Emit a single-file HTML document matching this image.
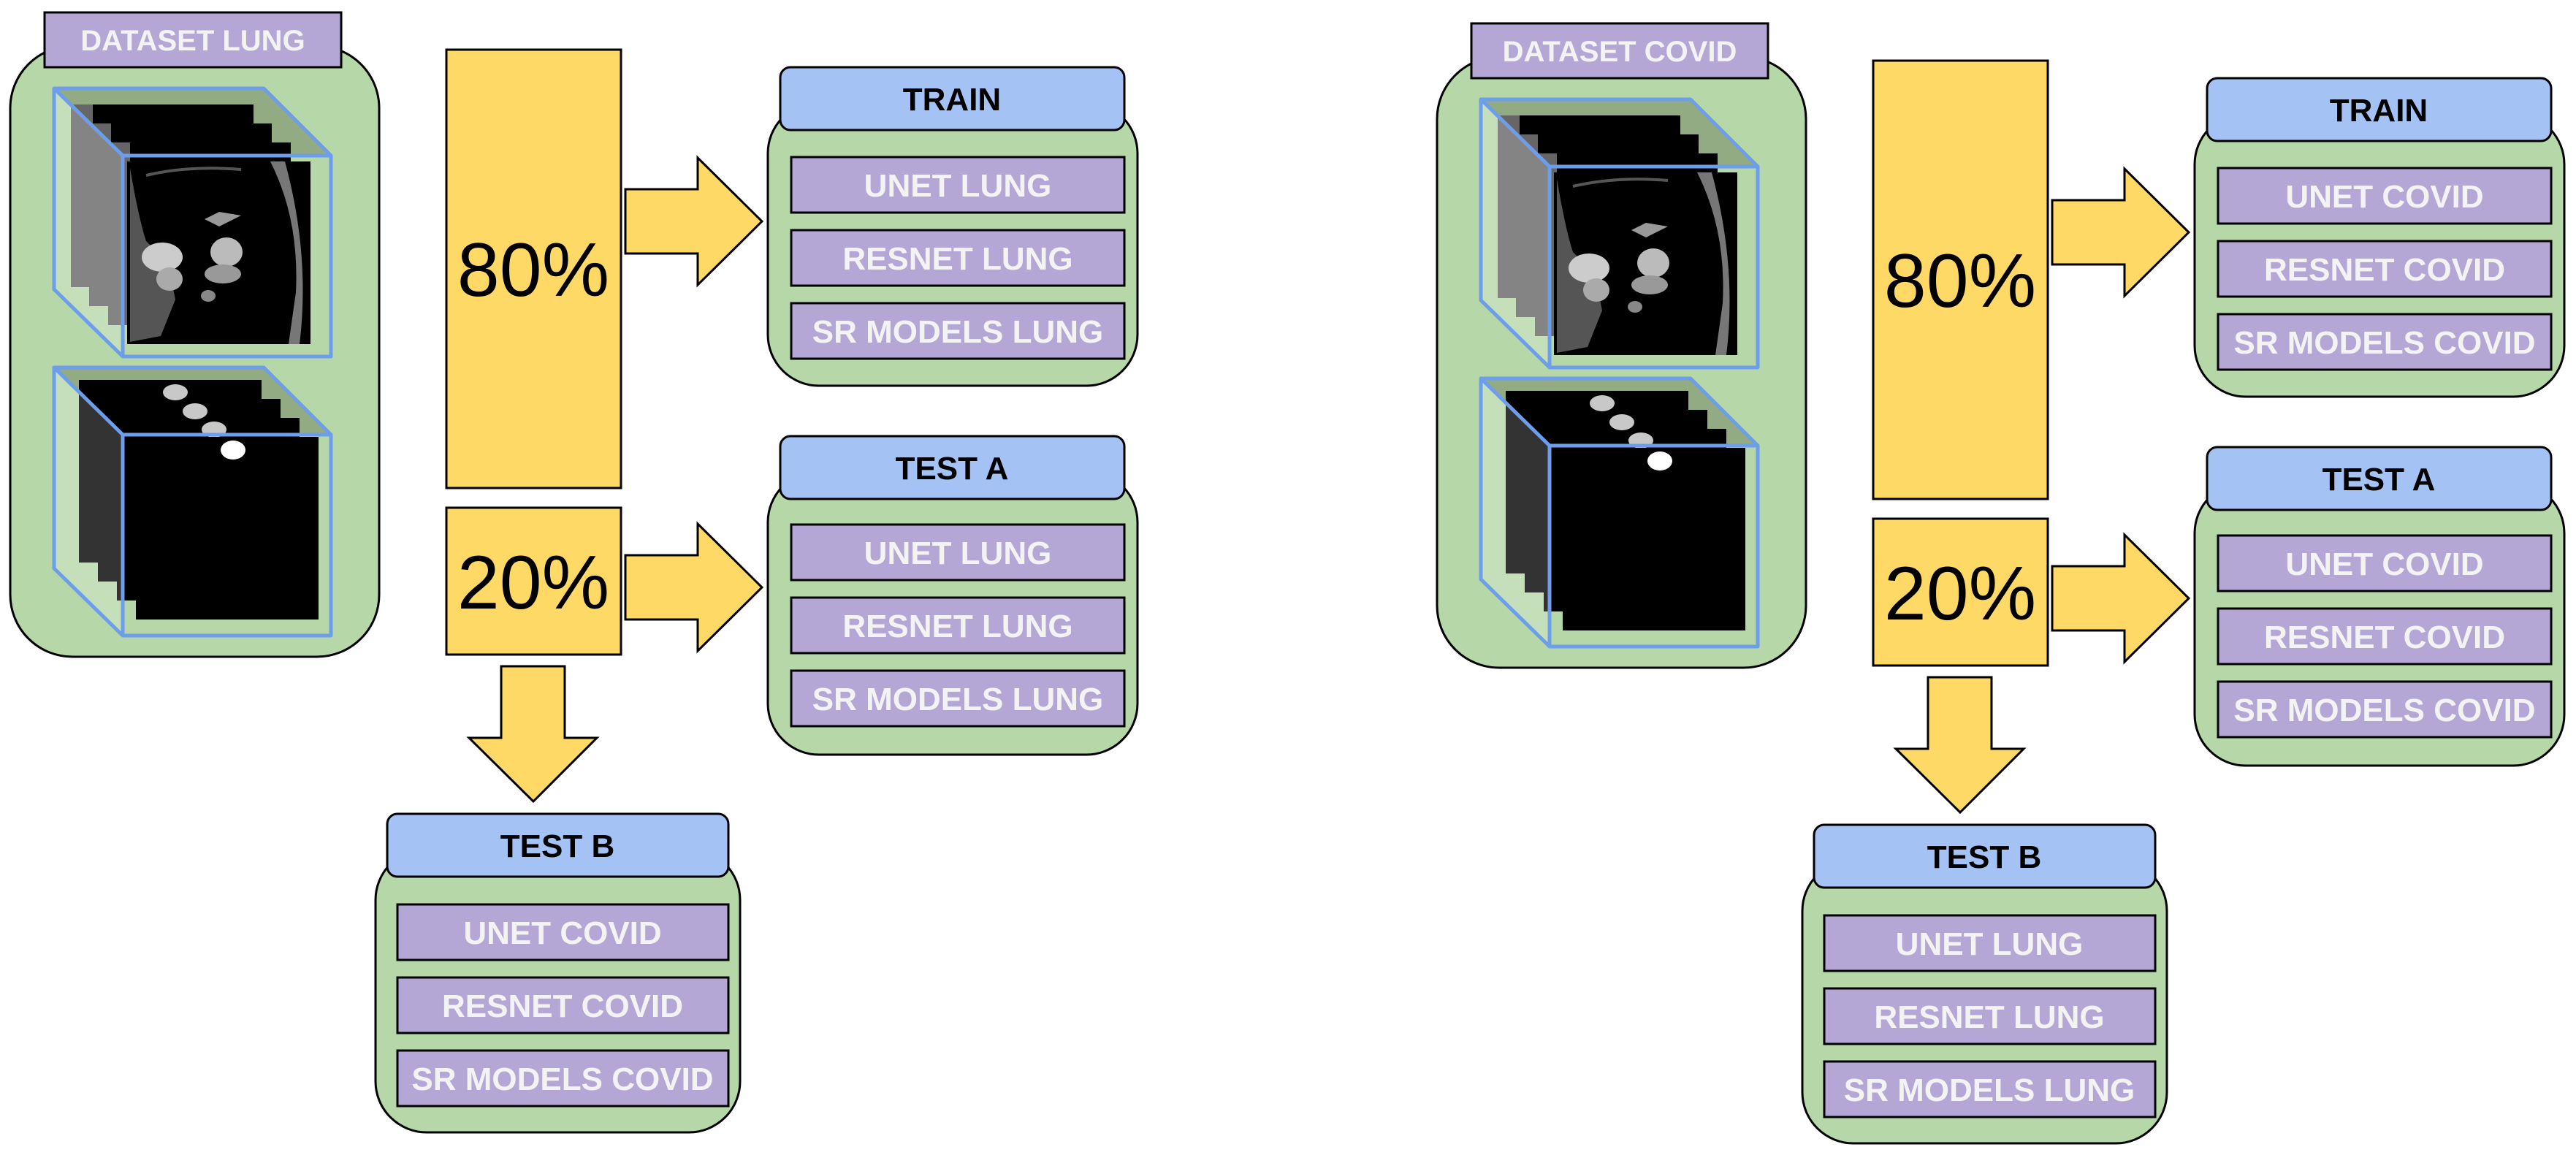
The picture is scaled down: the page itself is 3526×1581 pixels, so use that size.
<!DOCTYPE html>
<html><head><meta charset="utf-8"><style>
html,body{margin:0;padding:0;background:#fff;}
svg{display:block;}
text{font-family:"Liberation Sans",Arial,sans-serif;}
.it{font-size:44px;font-weight:bold;fill:#f3f3f3;text-anchor:middle;}
.hd{font-size:44px;font-weight:bold;fill:#000;text-anchor:middle;}
.pc{font-size:104px;fill:#000;text-anchor:middle;}
</style></head><body>
<svg width="3526" height="1581" viewBox="0 0 3526 1581" xmlns="http://www.w3.org/2000/svg">
<defs>
<g id="cubes">
  <rect x="14" y="63" width="505" height="836" rx="85" fill="#b6d7a8" stroke="#000" stroke-width="3"/>
  <polygon points="74,121 361,121 453,213 168,213" fill="#93ab83"/>
  <rect x="97" y="143" width="250" height="250" fill="#000"/>
  <rect x="97" y="143" width="30" height="250" fill="#666"/>
  <rect x="122" y="169" width="250" height="250" fill="#000"/>
  <rect x="122" y="169" width="30" height="250" fill="#666"/>
  <rect x="148" y="195" width="250" height="250" fill="#000"/>
  <rect x="148" y="195" width="30" height="250" fill="#666"/>
  <rect x="174" y="221" width="251" height="250" fill="#000"/>
  <path d="M178,230 Q190,300 200,330 L230,360 L240,410 L220,460 L178,468 Z" fill="#555"/>
  <ellipse cx="222" cy="352" rx="28" ry="20" fill="#ccc"/>
  <ellipse cx="310" cy="345" rx="22" ry="20" fill="#bbb"/>
  <ellipse cx="232" cy="382" rx="18" ry="16" fill="#aaa"/>
  <ellipse cx="305" cy="375" rx="25" ry="13" fill="#999"/>
  <ellipse cx="285" cy="405" rx="10" ry="8" fill="#888"/>
  <path d="M280,300 L300,290 L330,295 L300,310 Z" fill="#999"/>
  <path d="M200,240 Q260,226 330,232" stroke="#555" stroke-width="4" fill="none"/>
  <path d="M370,221 Q410,300 405,400 L395,471 L410,471 Q425,350 390,221 Z" fill="#777"/>
  <polygon points="74,121 168,213 168,488 74,396" fill="#fff" fill-opacity="0.2"/>
  <g fill="none" stroke="#6d9eeb" stroke-width="5" stroke-linejoin="round">
    <polyline points="453,213 361,121 74,121 74,396 168,488"/>
    <line x1="74" y1="121" x2="168" y2="213"/>
    <rect x="168" y="213" width="285" height="275"/>
  </g>
  <polygon points="74,503 361,503 453,595 168,595" fill="#93ab83"/>
  <rect x="108" y="520" width="250" height="250" fill="#000"/>
  <rect x="134" y="546" width="250" height="250" fill="#000"/>
  <rect x="160" y="572" width="250" height="250" fill="#000"/>
  <ellipse cx="240" cy="537" rx="17" ry="11" fill="#c8c8c8"/>
  <ellipse cx="267" cy="563" rx="17" ry="11" fill="#c8c8c8"/>
  <ellipse cx="293" cy="588" rx="17" ry="11" fill="#c8c8c8"/>
  <rect x="186" y="598" width="250" height="250" fill="#000"/>
  <ellipse cx="319" cy="616" rx="17" ry="13" fill="#fff"/>
  <polygon points="74,503 168,595 168,870 74,778" fill="#fff" fill-opacity="0.2"/>
  <g fill="none" stroke="#6d9eeb" stroke-width="5" stroke-linejoin="round">
    <polyline points="453,595 361,503 74,503 74,778 168,870"/>
    <line x1="74" y1="503" x2="168" y2="595"/>
    <rect x="168" y="595" width="285" height="275"/>
  </g>
  <rect x="611" y="68" width="239" height="600" fill="#ffd966" stroke="#000" stroke-width="3"/>
  <rect x="611" y="695" width="239" height="201" fill="#ffd966" stroke="#000" stroke-width="3"/>
  <polygon points="856,259 955,259 955,216 1043,303 955,390 955,347 856,347" fill="#ffd966" stroke="#000" stroke-width="3"/>
  <polygon points="856,760 955,760 955,717 1043,804 955,891 955,848 856,848" fill="#ffd966" stroke="#000" stroke-width="3"/>
  <polygon points="686,912 773,912 773,1010 817,1010 730,1097 642,1010 686,1010" fill="#ffd966" stroke="#000" stroke-width="3"/>
  <rect x="1051" y="140" width="506" height="388" rx="70" fill="#b6d7a8" stroke="#000" stroke-width="3"/>
  <rect x="1068" y="92" width="471" height="86" rx="14" fill="#a4c2f4" stroke="#000" stroke-width="3"/>
  <rect x="1083" y="215" width="456" height="76" fill="#b4a7d6" stroke="#000" stroke-width="3"/>
  <rect x="1083" y="315" width="456" height="76" fill="#b4a7d6" stroke="#000" stroke-width="3"/>
  <rect x="1083" y="415" width="456" height="76" fill="#b4a7d6" stroke="#000" stroke-width="3"/>
  <rect x="1051" y="645" width="506" height="388" rx="70" fill="#b6d7a8" stroke="#000" stroke-width="3"/>
  <rect x="1068" y="597" width="471" height="86" rx="14" fill="#a4c2f4" stroke="#000" stroke-width="3"/>
  <rect x="1083" y="718" width="456" height="76" fill="#b4a7d6" stroke="#000" stroke-width="3"/>
  <rect x="1083" y="818" width="456" height="76" fill="#b4a7d6" stroke="#000" stroke-width="3"/>
  <rect x="1083" y="918" width="456" height="76" fill="#b4a7d6" stroke="#000" stroke-width="3"/>
  <rect x="514" y="1162" width="499" height="388" rx="70" fill="#b6d7a8" stroke="#000" stroke-width="3"/>
  <rect x="530" y="1114" width="467" height="86" rx="14" fill="#a4c2f4" stroke="#000" stroke-width="3"/>
  <rect x="544" y="1238" width="453" height="76" fill="#b4a7d6" stroke="#000" stroke-width="3"/>
  <rect x="544" y="1338" width="453" height="76" fill="#b4a7d6" stroke="#000" stroke-width="3"/>
  <rect x="544" y="1438" width="453" height="76" fill="#b4a7d6" stroke="#000" stroke-width="3"/>
</g>
</defs>

<g>
  <use href="#cubes"/>
  <rect x="61" y="17" width="406" height="75" fill="#b4a7d6" stroke="#000" stroke-width="3"/>
  <text x="264" y="69" font-size="40" font-weight="bold" fill="#f3f3f3" text-anchor="middle">DATASET LUNG</text>
  <text class="pc" x="730" y="405">80%</text>
  <text class="pc" x="730" y="833">20%</text>
  <text class="hd" x="1303" y="151">TRAIN</text>
  <text class="it" x="1311" y="269">UNET LUNG</text>
  <text class="it" x="1311" y="369">RESNET LUNG</text>
  <text class="it" x="1311" y="469">SR MODELS LUNG</text>
  <text class="hd" x="1303" y="656">TEST A</text>
  <text class="it" x="1311" y="772">UNET LUNG</text>
  <text class="it" x="1311" y="872">RESNET LUNG</text>
  <text class="it" x="1311" y="972">SR MODELS LUNG</text>
  <text class="hd" x="763" y="1173">TEST B</text>
  <text class="it" x="770" y="1292">UNET COVID</text>
  <text class="it" x="770" y="1392">RESNET COVID</text>
  <text class="it" x="770" y="1492">SR MODELS COVID</text>
</g>

<g transform="translate(1953,15)">
  <use href="#cubes"/>
  <rect x="61" y="17" width="406" height="75" fill="#b4a7d6" stroke="#000" stroke-width="3"/>
  <text x="264" y="69" font-size="40" font-weight="bold" fill="#f3f3f3" text-anchor="middle">DATASET COVID</text>
  <text class="pc" x="730" y="405">80%</text>
  <text class="pc" x="730" y="833">20%</text>
  <text class="hd" x="1303" y="151">TRAIN</text>
  <text class="it" x="1311" y="269">UNET COVID</text>
  <text class="it" x="1311" y="369">RESNET COVID</text>
  <text class="it" x="1311" y="469">SR MODELS COVID</text>
  <text class="hd" x="1303" y="656">TEST A</text>
  <text class="it" x="1311" y="772">UNET COVID</text>
  <text class="it" x="1311" y="872">RESNET COVID</text>
  <text class="it" x="1311" y="972">SR MODELS COVID</text>
  <text class="hd" x="763" y="1173">TEST B</text>
  <text class="it" x="770" y="1292">UNET LUNG</text>
  <text class="it" x="770" y="1392">RESNET LUNG</text>
  <text class="it" x="770" y="1492">SR MODELS LUNG</text>
</g>
</svg>
</body></html>
